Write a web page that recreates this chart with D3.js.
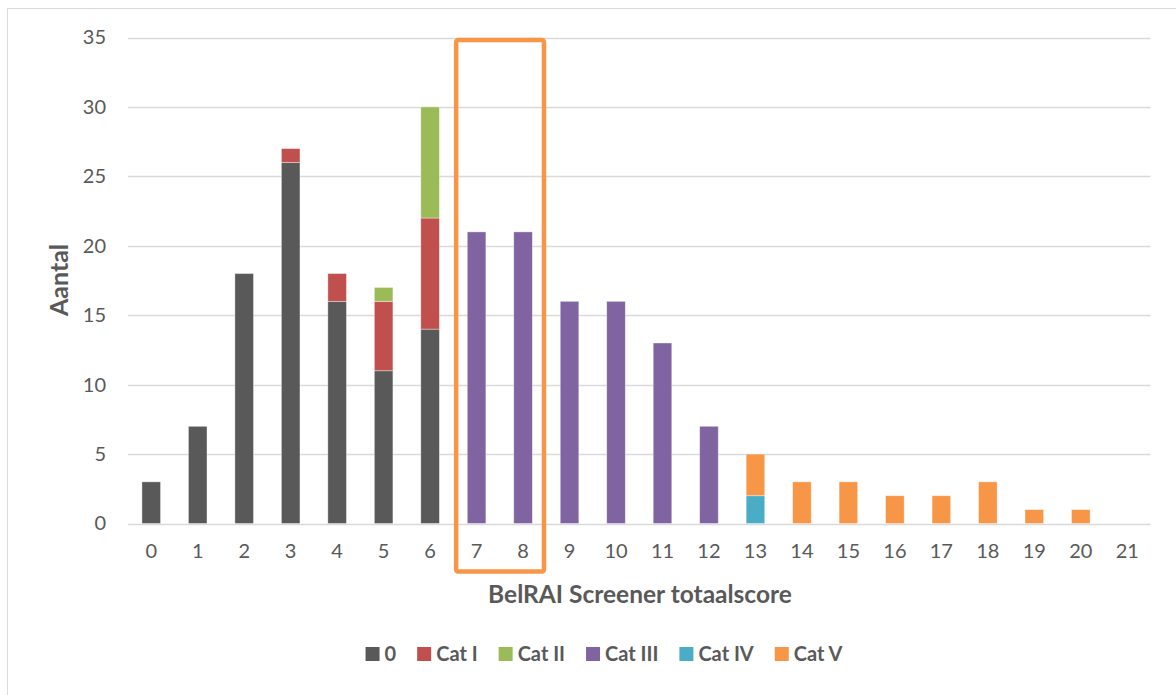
<!DOCTYPE html>
<html>
<head>
<meta charset="utf-8">
<script src="https://cdn.jsdelivr.net/npm/d3@7"></script>
<style>
  html, body { margin: 0; padding: 0; background: #fff; }
  svg { display: block; font-family: Lato, "Open Sans", sans-serif; }
</style>
</head>
<body>
<svg id="chart" width="1176" height="695"></svg>
<script>
// BelRAI Screener total score (0–21), stacked by category
const scores = d3.range(0, 22).map(String);
const seriesNames = ["0", "Cat I", "Cat II", "Cat III", "Cat IV", "Cat V"];
const seriesColors = ["#595959", "#C0504D", "#9BBB59", "#8064A2", "#4BACC6", "#F79646"];

const cat0   = [3, 7, 18, 26, 16, 11, 14, 0, 0, 0, 0, 0, 0, 0, 0, 0, 0, 0, 0, 0, 0, 0];
const catI   = [0, 0, 0, 1, 2, 5, 8, 0, 0, 0, 0, 0, 0, 0, 0, 0, 0, 0, 0, 0, 0, 0];
const catII  = [0, 0, 0, 0, 0, 1, 8, 0, 0, 0, 0, 0, 0, 0, 0, 0, 0, 0, 0, 0, 0, 0];
const catIII = [0, 0, 0, 0, 0, 0, 0, 21, 21, 16, 16, 13, 7, 0, 0, 0, 0, 0, 0, 0, 0, 0];
const catIV  = [0, 0, 0, 0, 0, 0, 0, 0, 0, 0, 0, 0, 0, 2, 0, 0, 0, 0, 0, 0, 0, 0];
const catV   = [0, 0, 0, 0, 0, 0, 0, 0, 0, 0, 0, 0, 0, 3, 3, 3, 2, 2, 3, 1, 1, 0];

const yTicks = [0, 5, 10, 15, 20, 25, 30, 35];
const highlighted = ["7", "8"];

const rows = scores.map((s, i) => ({
  score: s,
  "0": cat0[i], "Cat I": catI[i], "Cat II": catII[i],
  "Cat III": catIII[i], "Cat IV": catIV[i], "Cat V": catV[i]
}));

const svg = d3.select("#chart");
const textColor = "#595959";

// chart frame
svg.append("rect")
  .attr("x", 7.5).attr("y", 8.5)
  .attr("width", 1200).attr("height", 720)
  .attr("fill", "none").attr("stroke", "#d9d9d9").attr("stroke-width", 1);

const x = d3.scaleBand()
  .domain(scores)
  .range([128, 1150.5])
  .paddingInner(0.6)
  .paddingOuter(0.3);

const y = d3.scaleLinear().domain([0, 35]).range([523.5, 37.5]);

const color = d3.scaleOrdinal().domain(seriesNames).range(seriesColors);

// gridlines
svg.append("g")
  .selectAll("line")
  .data(yTicks)
  .join("line")
  .attr("x1", 128).attr("x2", 1150.5)
  .attr("y1", d => Math.round(y(d)) + 0.5)
  .attr("y2", d => Math.round(y(d)) + 0.5)
  .attr("stroke", "#d9d9d9").attr("stroke-width", 1.3);

// y axis labels
const yAxis = svg.append("g")
  .attr("transform", "translate(106,0)")
  .call(d3.axisLeft(y).tickValues(yTicks).tickSize(0).tickPadding(0));
yAxis.select(".domain").remove();
yAxis.selectAll("text")
  .attr("fill", textColor)
  .style("font-size", "20px")
  .style("font-family", "Lato, 'Open Sans', sans-serif");

// x axis labels
const xAxis = svg.append("g")
  .attr("transform", `translate(0,${y(0)})`)
  .call(d3.axisBottom(x).tickSize(0).tickPadding(20));
xAxis.select(".domain").remove();
xAxis.selectAll("text")
  .attr("fill", textColor)
  .style("font-size", "20px")
  .style("font-family", "Lato, 'Open Sans', sans-serif");

// stacked bars
const stacked = d3.stack().keys(seriesNames)(rows);
svg.append("g")
  .selectAll("g")
  .data(stacked)
  .join("g")
  .attr("fill", d => color(d.key))
  .selectAll("rect")
  .data(d => d.filter(p => p[1] - p[0] > 0))
  .join("rect")
  .attr("x", d => x(d.data.score))
  .attr("width", x.bandwidth())
  .attr("y", d => y(d[1]))
  .attr("height", d => y(d[0]) - y(d[1]))
  .attr("stroke", "#ffffff")
  .attr("stroke-opacity", 0.5)
  .attr("stroke-width", 0.75);

// highlight box around scores 7 and 8
const step = x.step();
const hx0 = x(highlighted[0]) + x.bandwidth() / 2 - 0.44 * step;
const hx1 = x(highlighted[1]) + x.bandwidth() / 2 + 0.45 * step;
svg.append("rect")
  .attr("x", hx0).attr("y", y(35) + 2.5)
  .attr("width", hx1 - hx0)
  .attr("height", (y(0) + 48) - (y(35) + 2.5))
  .attr("rx", 2).attr("ry", 2)
  .attr("fill", "none")
  .attr("stroke", "#F79646")
  .attr("stroke-width", 4.5);

// axis titles
svg.append("text")
  .attr("x", 640).attr("y", 603)
  .attr("text-anchor", "middle")
  .attr("fill", textColor)
  .style("font-size", "24.5px").style("font-weight", "bold")
  .text("BelRAI Screener totaalscore");

svg.append("text")
  .attr("transform", "translate(68,280) rotate(-90)")
  .attr("text-anchor", "middle")
  .attr("fill", textColor)
  .style("font-size", "25px").style("font-weight", "bold")
  .text("Aantal");

// legend
const legend = svg.append("g");
const items = legend.selectAll("g")
  .data(seriesNames)
  .join("g");
items.append("rect")
  .attr("width", 14).attr("height", 14)
  .attr("y", -14)
  .attr("fill", d => color(d));
items.append("text")
  .attr("x", 19).attr("y", 0)
  .attr("fill", textColor)
  .style("font-size", "20px").style("font-weight", "bold")
  .text(d => d);
let cursor = 0;
items.each(function () {
  const w = d3.select(this).select("text").node().getComputedTextLength();
  d3.select(this).attr("transform", `translate(${cursor},0)`);
  cursor += 19 + w + 21;
});
const total = cursor - 21;
legend.attr("transform", `translate(${604 - total / 2},661)`);
</script>
</body>
</html>
